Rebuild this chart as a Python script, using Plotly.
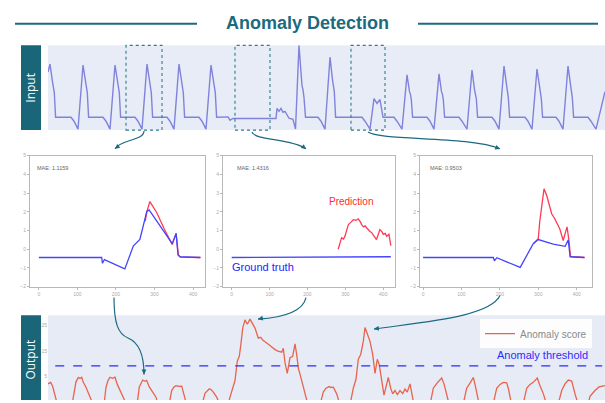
import plotly.graph_objects as go

W, H = 605, 403

# ---------------- data ----------------
# Input ECG trace (sample index, amplitude)
ecg_t = [0, 2, 4.5, 5.5, 6.3, 7.6, 23, 26, 30,
         35, 37.5, 38.5, 39.3, 40.6, 55, 58, 62,
         67, 69.5, 70.5, 71.3, 72.6, 87, 90, 94,
         99, 101.5, 102.5, 103.3, 104.6, 119, 122, 126,
         131, 133.5, 134.5, 135.3, 136.6, 151, 154, 158,
         163, 165.5, 166.5, 167.3, 168.6, 180, 182, 185, 228,
         229, 231, 233, 235, 237, 241, 245, 247.5,
         251, 254, 255, 256, 257.5, 270, 273, 277,
         282, 284.5, 285.5, 286.3, 287.6, 314, 317, 322,
         326, 329, 332, 335, 346, 349, 354,
         359, 361.5, 362.5, 363.3, 364.6, 379, 382, 386,
         391, 393.5, 394.5, 395.3, 396.6, 411, 414, 419,
         424, 426.5, 427.5, 428.3, 429.6, 444, 447, 451,
         456, 458.5, 459.5, 460.3, 461.6, 477, 480, 484,
         489, 491.5, 492.5, 493.3, 494.6, 508, 511, 515,
         520, 522.5, 523.5, 524.3, 525.6, 540, 543, 548,
         557]
ecg_v = [2.3, 2.7, 1.8, 1.55, 1.25, 0, 0, -0.2, -0.6,
         2.65, 1.75, 1.55, 1.25, 0, 0, -0.2, -0.6,
         2.65, 1.75, 1.55, 1.25, 0, 0, -0.2, -0.6,
         2.7, 1.8, 1.55, 1.25, 0, 0, -0.2, -0.6,
         2.7, 1.8, 1.55, 1.25, 0, 0, -0.2, -0.6,
         2.65, 1.75, 1.55, 1.25, 0, 0.02, -0.15, -0.06, -0.06,
         0.45, 0.3, 0.45, 0.25, 0.3, -0.05, -0.1, -0.6,
         3.65, 1.6, 1.4, 1.0, 0, 0, -0.2, -0.6,
         3.05, 1.9, 1.65, 1.3, 0, 0, -0.2, -0.6,
         0.95, 0.7, 0.9, 0, 0, -0.2, -0.6,
         2.15, 1.3, 1.15, 0.9, 0, 0, -0.2, -0.6,
         2.2, 1.3, 1.15, 0.9, 0, 0, -0.2, -0.6,
         2.4, 1.4, 1.2, 0.95, 0, 0, -0.2, -0.6,
         2.6, 1.5, 1.3, 1.0, 0, 0, -0.2, -0.6,
         2.45, 1.45, 1.25, 0.95, 0, 0, -0.2, -0.6,
         2.6, 1.5, 1.3, 1.0, 0, 0, -0.2, -0.6,
         1.3]

# Window 1
w1_gt_t = [0, 163, 165, 170, 223, 245, 262, 280, 286, 306, 340, 346, 356, 361, 366, 418]
w1_gt_v = [-0.44, -0.44, -0.75, -0.55, -1.05, 0.17, 0.53, 2.02, 2.1, 1.5, 0.45, 0.3, 0.85, -0.3, -0.4, -0.44]
w1_pr_t = [276, 280, 288, 306, 325, 346, 356, 362, 368, 420]
w1_pr_v = [1.5, 2.0, 2.55, 1.95, 1.1, 0.25, 0.85, -0.3, -0.42, -0.44]
# Window 2
w2_gt_t = [0, 420]
w2_gt_v = [-0.44, -0.40]
w2_pr_t = [281, 286, 290, 295, 299, 304, 308, 315, 321, 328, 334, 340, 343, 348, 352,
           356, 360, 365, 369, 374, 378, 382, 387, 391, 396, 400, 405, 409, 415, 420]
w2_pr_v = [0.0, 0.35, 0.62, 0.55, 0.7, 1.05, 1.32, 1.45, 1.58, 1.55, 1.63, 1.45, 1.32, 1.2, 1.25,
           1.15, 1.05, 0.95, 0.9, 0.75, 0.7, 0.52, 0.8, 1.05, 0.95, 0.8, 0.85, 0.7, 0.8, 0.2]
# Window 3
w3_gt_t = [0, 183, 186, 192, 253, 270, 287, 300, 313, 339, 370, 378, 383, 420]
w3_gt_v = [-0.44, -0.44, -0.62, -0.45, -0.97, -0.32, 0.3, 0.52, 0.45, 0.27, 0.16, 0.5, -0.4, -0.44]
w3_pr_t = [287, 300, 304, 315, 322, 335, 343, 356, 365, 375, 380, 384, 391, 421]
w3_pr_v = [0.3, 0.56, 1.5, 3.23, 2.87, 1.9, 1.63, 1.1, 0.47, 1.2, 0.47, -0.38, -0.4, -0.44]
mae_values = ["1.1159", "1.4316", "0.9503"]

# Output anomaly score
score_t = [0, 2.7, 4.7, 7, 9.5,
           24, 26, 28, 30.3, 32, 33.7, 35.3, 38, 40.3, 42.7, 45.3,
           56, 58, 60, 62, 64.5, 67, 69.3, 72, 75.3, 78.7,
           89, 91.3, 94.7, 96.5, 98.7, 101.3, 104.7, 108, 110.3,
           121, 123.7, 126, 128, 131, 133.7, 136, 138.7,
           154, 157, 161.3, 163, 165.3, 168.7, 172,
           180, 182, 185, 187, 189.3, 191.3, 193, 194.7, 197, 199.3, 202, 204.7, 207,
           210.3, 212.7, 215, 218.7, 222, 227, 230, 233.7, 235.3, 237, 239.3, 240.5,
           242, 244.7, 247, 248.7, 250.5, 252, 254.5, 257, 260,
           272, 275.3, 278, 281.3, 283, 285.3, 288.7, 292,
           302, 305.3, 308, 310.3, 312.7, 315.3, 317, 318.7, 320, 322, 324.7, 327,
           329.3, 331.3, 333.7, 336, 338, 340.3, 342.7, 344.7, 347, 349.3, 352,
           354.7, 357, 359.3, 362, 363.7, 366,
           382, 385.3, 389, 393.7, 396, 398.7, 401.3,
           415, 418.7, 422, 425.3, 427, 428.7, 431.3,
           445, 448.7, 452, 455.3, 458.7, 460.3, 463.7,
           475, 478.7, 482, 485.3, 489.3, 492, 495.3, 498.7,
           510, 513.7, 517, 520.3, 523.7, 527, 530.3,
           540, 542, 547, 551, 557]
score_v = [2.2, 2.8, 1.15, -2.3, -6,
           -6, -1, 3.0, 4.7, 4.3, 4.8, 2.8, 0.9, -1.4, -3, -6,
           -6, 0.9, 3.5, 4.8, 4.4, 4.8, 2.0, -0.4, -2.7, -6,
           -6, 1.0, 3.7, 3.3, 3.5, 1.0, -1.0, -3, -6,
           -6, -0.4, 1.0, 1.5, 1.2, 1.3, -1.8, -6,
           -6, -1.5, 0.25, 0.0, -1, -3, -6,
           -6, -3, 0.5, 3.5, 11.1, 13, 18, 24, 27.2, 25.5, 27.5, 25.5, 24,
           20.1, 20.4, 19.2, 18.2, 17.2, 15.6, 15.0, 14.6, 16.1, 10.5, 6.3, 9,
           12.4, 13, 17.8, 13.6, 8, 6.0, 2, -1, -6,
           -6, -1, 0.5, 1.15, 0.8, 0.9, -1.7, -6,
           -6, 0.5, 4, 11.8, 13.7, 18.8, 24.2, 22.7, 21, 18.8, 13.7, 6.3,
           11.8, 9.6, 2.8, -2.2, 1.0, 4.7, 0.5, -1.7, -0.4, -2.0, -0.4,
           -1.6, 0.2, -1.0, 2.2, -0.5, -6,
           -6, 0.5, 2.5, 4.5, 2.2, -2, -6,
           -6, 0.5, 2.5, 4.7, 2.0, -1.6, -6,
           -6, 0.5, 2.0, 2.8, 2.6, 0.5, -6,
           -6, 0.5, 2.0, 2.8, 4.5, 1.5, -1.6, -6,
           -6, -0.4, 2.2, 3.7, 3.3, -1.7, -6,
           -6, -2.7, -0.4, 1.0, 1.5]
threshold = 9.2
score_ticks = [5, 15, 25]

# ---------------- helpers ----------------
def px(x):
    return x / W

def py(y):
    return 1 - y / H

def pt(x, y):
    return f"{px(x):.5f},{py(y):.5f}"

TEAL = "#1c6a80"
BOX = "#1b6579"

fig = go.Figure()

fig.add_trace(go.Scatter(x=ecg_t, y=ecg_v, xaxis="x", yaxis="y", mode="lines",
                         line=dict(color="#8083dc", width=1.4), showlegend=False, hoverinfo="skip"))

win = [(w1_gt_t, w1_gt_v, w1_pr_t, w1_pr_v),
       (w2_gt_t, w2_gt_v, w2_pr_t, w2_pr_v),
       (w3_gt_t, w3_gt_v, w3_pr_t, w3_pr_v)]
for i, (gt, gv, pt_, pv) in enumerate(win):
    xa, ya = f"x{i+2}", f"y{i+2}"
    fig.add_trace(go.Scatter(x=pt_, y=pv, xaxis=xa, yaxis=ya, mode="lines",
                             line=dict(color="#ff3a55", width=1.3), showlegend=False, hoverinfo="skip"))
    fig.add_trace(go.Scatter(x=gt, y=gv, xaxis=xa, yaxis=ya, mode="lines",
                             line=dict(color="#4444ff", width=1.3), showlegend=False, hoverinfo="skip"))

fig.add_trace(go.Scatter(x=score_t, y=score_v, xaxis="x5", yaxis="y5", mode="lines",
                         name="Anomaly score", line=dict(color="#e8644c", width=1.3),
                         showlegend=True, hoverinfo="skip"))

small = dict(showline=True, mirror=True, linecolor="#b8b8b8", linewidth=1, ticks="outside",
             ticklen=2, tickcolor="#b8b8b8", tickfont=dict(size=5, color="#aaaaaa", family="Liberation Sans"),
             showgrid=False, zeroline=False, fixedrange=True)

chart_x = [(30, 205, [-23, 431]), (223, 395, [-23, 431]), (420, 592, [-8, 440])]
layout_axes = {}
layout_axes["xaxis"] = dict(domain=[px(48), 1], range=[0, 557], visible=False, anchor="y")
layout_axes["yaxis"] = dict(domain=[py(129), py(43)], range=[-0.65, 3.65], visible=False, anchor="x")
for i, (a, b, rng) in enumerate(chart_x):
    n = i + 2
    layout_axes[f"xaxis{n}"] = dict(domain=[px(a), px(b)], range=rng, tickvals=[0, 100, 200, 300, 400],
                                    anchor=f"y{n}", **small)
    layout_axes[f"yaxis{n}"] = dict(domain=[py(288), py(155)], range=[-2, 5], tickvals=list(range(-2, 6)),
                                    anchor=f"x{n}", **small)
layout_axes["xaxis5"] = dict(domain=[px(48), 1], range=[0, 557], visible=False, anchor="y5")
layout_axes["yaxis5"] = dict(domain=[0, py(317)], range=[-4.1, 29], tickvals=score_ticks, anchor="x5",
                             showline=False, ticks="", showgrid=False, zeroline=False,
                             tickfont=dict(size=5, color="#aaaaaa", family="Liberation Sans"))

shapes = []
# title rules
shapes.append(dict(type="line", xref="paper", yref="paper", x0=px(15), x1=px(197), y0=py(21), y1=py(21),
                   line=dict(color=TEAL, width=2)))
shapes.append(dict(type="line", xref="paper", yref="paper", x0=px(418), x1=px(598), y0=py(21), y1=py(21),
                   line=dict(color=TEAL, width=2)))
# panel backgrounds
shapes.append(dict(type="rect", xref="paper", yref="paper", x0=px(48), x1=1, y0=py(129), y1=py(43),
                   fillcolor="#e7ecf7", line=dict(width=0), layer="below"))
shapes.append(dict(type="rect", xref="paper", yref="paper", x0=px(48), x1=1, y0=0, y1=py(317),
                   fillcolor="#e6ebf6", line=dict(width=0), layer="below"))
# label boxes
shapes.append(dict(type="rect", xref="paper", yref="paper", x0=px(21), x1=px(41), y0=py(129), y1=py(43),
                   fillcolor=BOX, line=dict(width=0)))
shapes.append(dict(type="rect", xref="paper", yref="paper", x0=px(21), x1=px(41), y0=0, y1=py(317),
                   fillcolor=BOX, line=dict(width=0)))
# dotted windows
for a, b in [(126, 162), (235, 270), (351, 385)]:
    shapes.append(dict(type="rect", xref="paper", yref="paper", x0=px(a), x1=px(b), y0=py(129), y1=py(43),
                       line=dict(color="#2a7d8c", width=1.1, dash="dot"), fillcolor="rgba(0,0,0,0)"))
# threshold
shapes.append(dict(type="line", xref="x5 domain", yref="y5", x0=0.013, x1=0.995, y0=threshold, y1=threshold,
                   line=dict(color="#2b2bff", width=1.3, dash="dash")))
# connector curves
curves = [
    [(144, 130), (144, 140), (121, 138), (115, 148)],
    [(252, 131), (255, 140), (290, 137), (306, 148)],
    [(368, 131), (380, 140), (470, 135), (500, 148)],
    [(306, 299), (303, 313), (285, 319), (258, 321)],
    [(500, 297), (490, 318), (430, 323), (374, 331)],
]
for c in curves:
    path = f"M {pt(*c[0])} C {pt(*c[1])} {pt(*c[2])} {pt(*c[3])}"
    shapes.append(dict(type="path", xref="paper", yref="paper", path=path,
                       line=dict(color=TEAL, width=1.2)))
path = (f"M {pt(114, 299)} C {pt(114, 325)} {pt(118, 336)} {pt(128, 340)} "
        f"C {pt(140, 345)} {pt(144, 360)} {pt(144, 377)}")
shapes.append(dict(type="path", xref="paper", yref="paper", path=path, line=dict(color=TEAL, width=1.2)))

def note(text, x, y, size, color, family="Liberation Sans", xanchor="center", angle=0):
    return dict(text=text, x=px(x), y=py(y), xref="paper", yref="paper", showarrow=False,
                xanchor=xanchor, yanchor="middle", textangle=angle,
                font=dict(size=size, color=color, family=family))

annotations = []
annotations.append(note("<b>Anomaly Detection</b>", 308, 20, 18, TEAL))
annotations.append(note("Input", 31, 86, 12, "white", "Open Sans", angle=-90))
annotations.append(note("Output", 31, 362, 12, "white", "Open Sans", angle=-90))
for (xx, yy), m in zip([(35, 168), (235, 168), (428, 167)], mae_values):
    annotations.append(note(f"MAE: {m}", xx, yy, 5.5, "#666666", xanchor="left"))
annotations.append(note("Prediction", 351, 202, 10, "#ff2a2a"))
annotations.append(note("Ground truth", 263, 268, 11, "#2323ff"))
annotations.append(note("Anomaly threshold", 590, 357, 11, "#2b2bff", xanchor="right"))
# arrow heads
heads = [(115, 148, 5, -4), (306, 148.3, -5, -4), (500, 148.3, -6, -2.5),
         (144, 377, 0, -6), (258, 320.7, 6, -1), (374, 330.7, 6, -0.5)]
for hx, hy, ax, ay in heads:
    annotations.append(dict(x=px(hx), y=py(hy), xref="paper", yref="paper", ax=ax, ay=ay,
                            axref="pixel", ayref="pixel", text="", showarrow=True,
                            arrowhead=2, arrowsize=0.8, arrowwidth=1.2, arrowcolor=TEAL))

fig.update_layout(
    width=W, height=H, autosize=False,
    margin=dict(l=0, r=0, t=0, b=0),
    paper_bgcolor="white", plot_bgcolor="rgba(0,0,0,0)",
    shapes=shapes, annotations=annotations,
    legend=dict(x=px(592), y=py(321), xanchor="right", yanchor="top",
                bgcolor="rgba(255,255,255,0.9)", font=dict(size=10, color="#8a8a8a", family="Liberation Sans"),
                itemwidth=30, tracegroupgap=0),
    **layout_axes,
)

fig.write_html("out.html", config={"displayModeBar": False},
               post_script="document.body.style.margin='0px';document.body.style.padding='0px';")
